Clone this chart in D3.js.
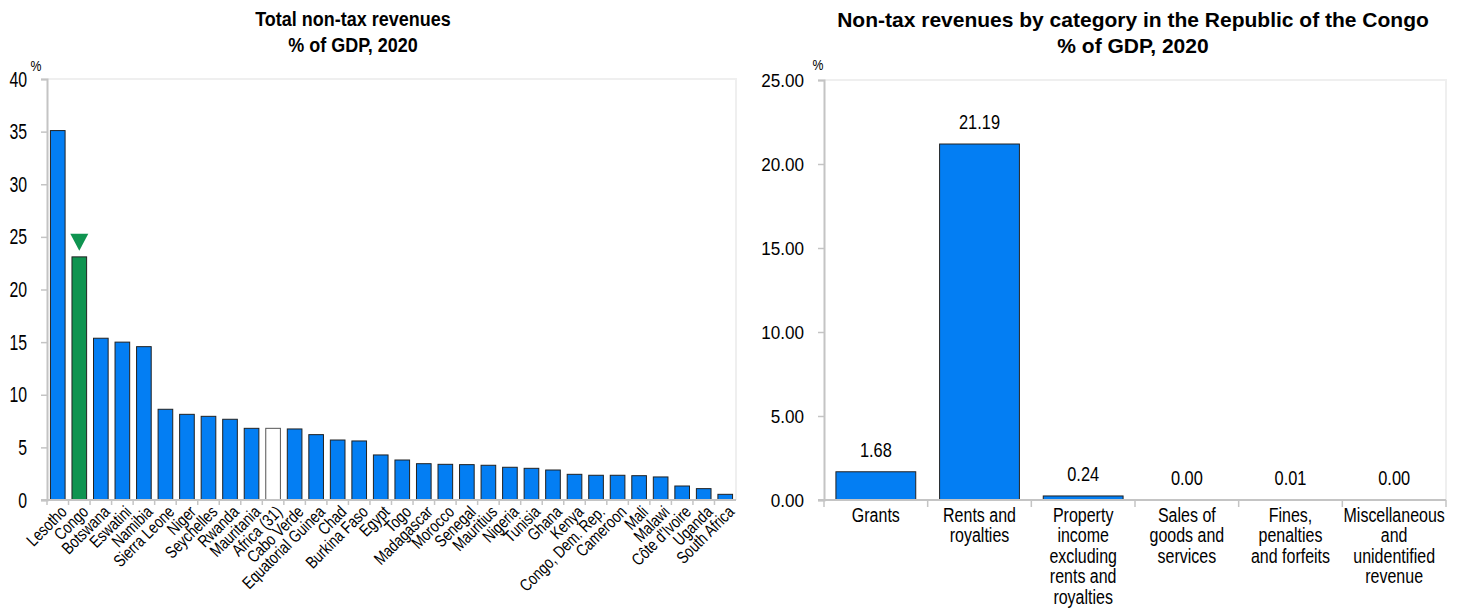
<!DOCTYPE html>
<html>
<head>
<meta charset="utf-8">
<script src="https://cdn.jsdelivr.net/npm/d3@7"></script>
<style>
  body { margin: 0; background: #fff; }
  text { font-family: "Liberation Sans", Arial, sans-serif; fill: #000; }
  .title { font-weight: bold; }
</style>
</head>
<body>
<div id="chart"></div>
<script>
// left panel: total non-tax revenues, % of GDP
var countries = ["Lesotho", "Congo", "Botswana", "Eswatini", "Namibia", "Sierra Leone", "Niger", "Seychelles",
  "Rwanda", "Mauritania", "Africa (31)", "Cabo Verde", "Equatorial Guinea", "Chad", "Burkina Faso", "Egypt",
  "Togo", "Madagascar", "Morocco", "Senegal", "Mauritius", "Nigeria", "Tunisia", "Ghana", "Kenya",
  "Congo, Dem. Rep.", "Cameroon", "Mali", "Malawi", "Côte d'Ivoire", "Uganda", "South Africa"];
var nonTaxRevenue = [35.1, 23.1, 15.37, 15.0, 14.57, 8.62, 8.14, 7.95, 7.67, 6.81, 6.81, 6.75, 6.21, 5.70,
  5.61, 4.28, 3.80, 3.45, 3.39, 3.36, 3.30, 3.11, 3.01, 2.85, 2.44, 2.35, 2.35, 2.31, 2.19, 1.33, 1.08, 0.54];
var leftTicks = [0, 5, 10, 15, 20, 25, 30, 35, 40];
var highlight = "Congo";
var average = "Africa (31)";

// right panel: Congo by category
var categories = [
  ["Grants"],
  ["Rents and", "royalties"],
  ["Property", "income", "excluding", "rents and", "royalties"],
  ["Sales of", "goods and", "services"],
  ["Fines,", "penalties", "and forfeits"],
  ["Miscellaneous", "and", "unidentified", "revenue"]
];
var categoryValues = [1.68, 21.19, 0.24, 0.003, 0.01, 0.00];
var rightTicks = [0, 5, 10, 15, 20, 25];

var blue = "#037ef3";
var green = "#0f9450";
var axisGrey = "#c4c4c4";
var frameGrey = "#efefef";
var narrow = 0.82; // squeeze the sans font to look like Arial Narrow

var svg = d3.select("#chart").append("svg")
  .attr("width", 1458)
  .attr("height", 610);

function styleYAxis(g, size, sx) {
  g.select(".domain").attr("stroke", axisGrey).attr("stroke-width", 2);
  g.selectAll(".tick line").attr("stroke", axisGrey).attr("stroke-width", 1.5);
  g.selectAll(".tick text")
    .attr("font-size", size)
    .attr("fill", "#000")
    .attr("font-family", "'Liberation Sans', Arial, sans-serif")
    .attr("x", -20 / sx)
    .attr("transform", "scale(" + sx + ",1)");
}

// ---------- left chart ----------
var L = {left: 47, right: 736, top: 79, bottom: 500};

var xL = d3.scaleBand().domain(countries).range([L.left, L.right]).padding(0);
var yL = d3.scaleLinear().domain([0, 40]).range([L.bottom, L.top]);

var gL = svg.append("g");

gL.append("path")
  .attr("d", "M" + L.left + "," + L.top + "H" + L.right + "V" + L.bottom)
  .attr("fill", "none")
  .attr("stroke", frameGrey)
  .attr("stroke-width", 2);

var barW = xL.bandwidth() * 0.68;
gL.selectAll(".bar")
  .data(countries)
  .enter().append("rect")
  .attr("class", "bar")
  .attr("x", d => xL(d) + (xL.bandwidth() - barW) / 2)
  .attr("width", barW)
  .attr("y", (d, i) => yL(nonTaxRevenue[i]))
  .attr("height", (d, i) => yL(0) - yL(nonTaxRevenue[i]))
  .attr("fill", d => d == highlight ? green : (d == average ? "#fff" : blue))
  .attr("stroke", d => d == average ? "#555" : "#222")
  .attr("stroke-width", 1);

// marker above Congo
var ci = countries.indexOf(highlight);
var cx = xL(highlight) + xL.bandwidth() / 2;
var tip = yL(nonTaxRevenue[ci]) - 6;
gL.append("path")
  .attr("d", "M" + (cx - 9) + "," + (tip - 17) + "L" + (cx + 9) + "," + (tip - 17) + "L" + cx + "," + tip + "Z")
  .attr("fill", green);

gL.append("g")
  .attr("transform", "translate(" + L.left + ",0)")
  .call(d3.axisLeft(yL).tickValues(leftTicks).tickSize(6))
  .call(styleYAxis, 22, 0.72);

// x axis: ticks at category boundaries
gL.append("line")
  .attr("x1", L.left - 6).attr("x2", L.right)
  .attr("y1", L.bottom).attr("y2", L.bottom)
  .attr("stroke", axisGrey).attr("stroke-width", 2);
gL.selectAll(".xtickL")
  .data(countries)
  .enter().append("line")
  .attr("x1", d => xL(d)).attr("x2", d => xL(d))
  .attr("y1", L.bottom).attr("y2", L.bottom + 5)
  .attr("stroke", axisGrey).attr("stroke-width", 1.5);

gL.selectAll(".xlabL")
  .data(countries)
  .enter().append("text")
  .attr("transform", d => "translate(" + (xL(d) + xL.bandwidth() / 2 + 1) + "," + (L.bottom + 4) + ") rotate(-45) scale(0.8,1)")
  .attr("text-anchor", "end")
  .attr("dy", "0.75em")
  .attr("font-size", 17)
  .text(d => d);

gL.append("text")
  .attr("transform", "translate(36,71) scale(" + narrow + ",1)")
  .attr("text-anchor", "middle")
  .attr("font-size", 15)
  .text("%");

gL.append("text").attr("class", "title")
  .attr("transform", "translate(353,26) scale(1,1.12)")
  .attr("text-anchor", "middle")
  .attr("font-size", 18)
  .text("Total non-tax revenues");
gL.append("text").attr("class", "title")
  .attr("transform", "translate(353,52) scale(1,1.12)")
  .attr("text-anchor", "middle")
  .attr("font-size", 18)
  .text("% of GDP, 2020");

// ---------- right chart ----------
var R = {left: 824, right: 1446, top: 80, bottom: 500};
var catKeys = categories.map(c => c.join(" "));

var xR = d3.scaleBand().domain(catKeys).range([R.left, R.right]).padding(0);
var yR = d3.scaleLinear().domain([0, 25]).range([R.bottom, R.top]);

var gR = svg.append("g");

gR.append("path")
  .attr("d", "M" + R.left + "," + R.top + "H" + R.right + "V" + R.bottom)
  .attr("fill", "none")
  .attr("stroke", frameGrey)
  .attr("stroke-width", 2);

var barWR = xR.bandwidth() * 0.77;
gR.selectAll(".bar")
  .data(catKeys)
  .enter().append("rect")
  .attr("class", "bar")
  .attr("x", d => xR(d) + (xR.bandwidth() - barWR) / 2)
  .attr("width", barWR)
  .attr("y", (d, i) => yR(categoryValues[i]))
  .attr("height", (d, i) => yR(0) - yR(categoryValues[i]))
  .attr("fill", blue)
  .attr("stroke", (d, i) => categoryValues[i] > 0 ? "#222" : "none")
  .attr("stroke-width", 1);

gR.selectAll(".val")
  .data(catKeys)
  .enter().append("text")
  .attr("transform", (d, i) => "translate(" + (xR(d) + xR.bandwidth() / 2) + "," + (yR(categoryValues[i]) - 15) + ") scale(" + narrow + ",1)")
  .attr("text-anchor", "middle")
  .attr("font-size", 20)
  .text((d, i) => categoryValues[i].toFixed(2));

gR.append("g")
  .attr("transform", "translate(" + R.left + ",0)")
  .call(d3.axisLeft(yR).tickValues(rightTicks).tickSize(6).tickFormat(d3.format(".2f")))
  .call(styleYAxis, 19, 0.9);

gR.append("line")
  .attr("x1", R.left - 6).attr("x2", R.right)
  .attr("y1", R.bottom).attr("y2", R.bottom)
  .attr("stroke", axisGrey).attr("stroke-width", 2);
gR.selectAll(".xtickR")
  .data(catKeys.concat(["end"]))
  .enter().append("line")
  .attr("x1", d => d == "end" ? R.right : xR(d))
  .attr("x2", d => d == "end" ? R.right : xR(d))
  .attr("y1", R.bottom).attr("y2", R.bottom + 7)
  .attr("stroke", axisGrey).attr("stroke-width", 1.5);

var labR = gR.selectAll(".xlabR")
  .data(categories)
  .enter().append("text")
  .attr("transform", (d, i) => "translate(" + (xR(catKeys[i]) + xR.bandwidth() / 2) + ",0) scale(" + narrow + ",1)")
  .attr("text-anchor", "middle")
  .attr("font-size", 19.5);
labR.selectAll("tspan")
  .data(d => d)
  .enter().append("tspan")
  .attr("x", 0)
  .attr("y", (d, j) => R.bottom + 22 + j * 20.5)
  .text(d => d);

gR.append("text")
  .attr("transform", "translate(818,70) scale(" + narrow + ",1)")
  .attr("text-anchor", "middle")
  .attr("font-size", 15)
  .text("%");

gR.append("text").attr("class", "title")
  .attr("x", 1133).attr("y", 27)
  .attr("text-anchor", "middle")
  .attr("font-size", 21)
  .text("Non-tax revenues by category in the Republic of the Congo");
gR.append("text").attr("class", "title")
  .attr("x", 1133).attr("y", 53)
  .attr("text-anchor", "middle")
  .attr("font-size", 21)
  .text("% of GDP, 2020");
</script>
</body>
</html>
